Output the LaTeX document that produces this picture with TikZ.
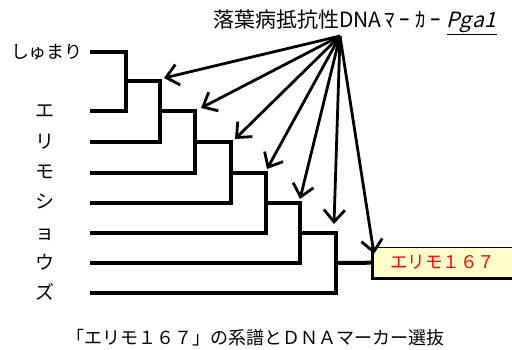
\documentclass[tikz,border=0pt]{standalone}
\usepackage{fontspec}
\setmainfont{Noto Sans CJK JP}
\newfontfamily\jpsl[FakeSlant=0.25]{Noto Sans CJK JP}
\usetikzlibrary{arrows.meta}
\definecolor{boxyellow}{RGB}{255,255,204}
\definecolor{labred}{RGB}{255,0,0}
\newcommand{\cb}[2]{\makebox[#1][c]{#2}}
\begin{document}
\begin{tikzpicture}[x=1pt,y=-1pt,
  tree/.style={line width=4pt,line join=miter,line cap=butt},
  marker/.style={line width=2.8pt,-{Straight Barb[length=12pt,width=21pt]}},
  lbl/.style={inner sep=0pt,font=\fontsize{18pt}{21pt}\selectfont}]
\useasboundingbox (0,0) rectangle (512,349);
% leaves
\coordinate (l1) at (90,52);
\coordinate (l2) at (90,111);
\coordinate (l3) at (90,142);
\coordinate (l4) at (90,173);
\coordinate (l5) at (90,203);
\coordinate (l6) at (90,233);
\coordinate (l7) at (90,263);
\coordinate (l8) at (90,293);
% internal nodes
\coordinate (A) at (126,81);
\coordinate (B) at (160,111);
\coordinate (C) at (195,142);
\coordinate (D) at (231,173);
\coordinate (E) at (266,203);
\coordinate (F) at (300,233);
\coordinate (G) at (336,263);
% labels
\node[lbl] (shumari) at (47,52) {しゅまり};
\node[lbl,align=center,font=\fontsize{19pt}{30.33pt}\selectfont] (erimo) at (45,203)
  {エ\\リ\\モ\\シ\\ョ\\ウ\\ズ};
% box
\node[fill=boxyellow,inner sep=0pt,minimum width=141pt,minimum height=31pt,anchor=north west,
  text=labred,font=\fontsize{17.5pt}{20pt}\selectfont] (emo) at (372,247) {エリモ１６７};
\draw[line width=1pt] (emo.north west) -- (emo.north east);
\draw[line width=3pt] (emo.north west) -- (emo.south west) -- (emo.south east);
% tree
\draw[tree] (l1) -| (A) |- (l2);
\draw[tree] (A) -| (B) |- (l3);
\draw[tree] (B) -| (C) |- (l4);
\draw[tree] (C) -| (D) |- (l5);
\draw[tree] (D) -| (E) |- (l6);
\draw[tree] (E) -| (F) |- (l7);
\draw[tree] (F) -| (G) |- (l8);
\draw[tree] (G) -- (emo.west);
% title and arrows
\node[inner sep=0pt,font=\fontsize{21pt}{25pt}\selectfont] (title) at (355,22)
  {落葉病抵抗性DNA\cb{15.5pt}{ﾏ}\cb{15.5pt}{ｰ}\cb{15.5pt}{ｶ}\cb{15.5pt}{ｰ}\hspace{3pt}\underline{\jpsl\cb{12.5pt}{P}\cb{12.5pt}{g}\cb{12.5pt}{a}\cb{12.5pt}{1}}};
\coordinate (src) at (340,36);
\coordinate (t1) at (164,78);
\coordinate (t2) at (201,108);
\coordinate (t3) at (235,139);
\coordinate (t4) at (267,169);
\coordinate (t5) at (300,199);
\coordinate (t6) at (334,224);
\coordinate (t7) at (374,254);
\foreach \t in {t1,t2,t3,t4,t5,t6,t7} \draw[marker] (src) -- (\t);
% caption
\node[inner sep=0pt,font=\fontsize{18pt}{22pt}\selectfont] (caption) at (255.5,338)
  {「エリモ１６７」の系譜とＤＮＡマーカー選抜};
\end{tikzpicture}
\end{document}
